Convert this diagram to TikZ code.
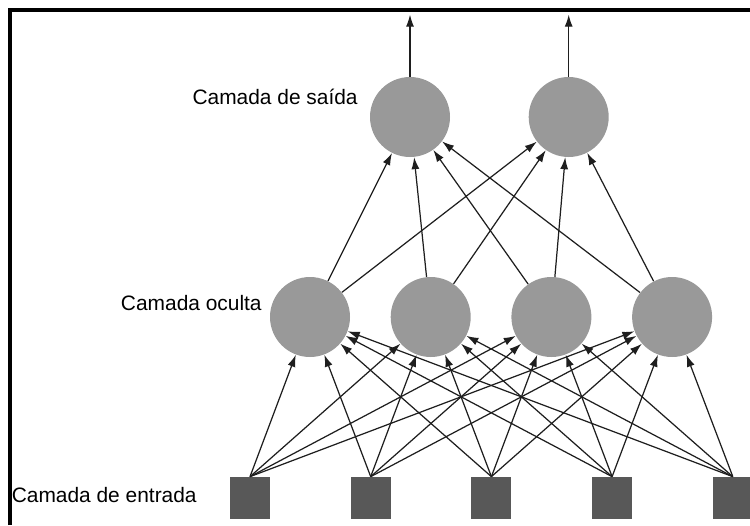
\documentclass[tikz,border=0pt]{standalone}
\usepackage{fontspec}
\setmainfont{Liberation Sans}
\usepackage{xcolor}
\usetikzlibrary{arrows.meta, positioning}

\definecolor{neurongray}{RGB}{153,153,153}
\definecolor{inputgray}{RGB}{88,88,88}
\definecolor{edgegray}{RGB}{30,30,30}

\begin{document}
\begin{tikzpicture}[
    neuron/.style={circle, fill=neurongray, minimum size=1.6cm, inner sep=0pt},
    inbox/.style={rectangle, fill=inputgray, minimum width=0.8cm, minimum height=0.84cm, inner sep=0pt},
    layer/.style={anchor=east, inner sep=0pt, font=\fontsize{11.9}{14}\selectfont},
    arrow/.style={-{Latex[length=2.4mm, width=1.6mm]}, line width=0.7pt, color=edgegray}
]
\useasboundingbox (0,0) rectangle (15,-10.5);

% Frame
\draw[line width=1.8pt] (0.2,-10.5) |- (15,-0.2);

% Input nodes
\node[inbox] (I1) at (5.0,-9.96) {};
\node[inbox, right=1.6cm of I1] (I2) {};
\node[inbox, right=1.6cm of I2] (I3) {};
\node[inbox, right=1.6cm of I3] (I4) {};
\node[inbox, right=1.6cm of I4] (I5) {};

% Hidden nodes
\node[neuron] (H1) at (6.2,-6.34) {};
\node[neuron, right=0.8cm of H1] (H2) {};
\node[neuron, right=0.8cm of H2] (H3) {};
\node[neuron, right=0.8cm of H3] (H4) {};

% Output nodes
\node[neuron] (O1) at (8.2,-2.34) {};
\node[neuron, right=1.56cm of O1] (O2) {};
\coordinate[above=1.24cm of O1] (T1);
\coordinate[above=1.24cm of O2] (T2);

% Layer labels
\node[layer] (LO) at (7.16,-1.94) {Camada de saída};
\node[layer] (LH) at (5.24,-6.06) {Camada oculta};
\node[layer] (LI) at (3.94,-9.9) {Camada de entrada};

% Input to hidden
\draw[arrow] (I1.north) -- (H1);
\draw[arrow] (I1.north) -- (H2);
\draw[arrow] (I1.north) -- (H3);
\draw[arrow] (I1.north) -- (H4);
\draw[arrow] (I2.north) -- (H1);
\draw[arrow] (I2.north) -- (H2);
\draw[arrow] (I2.north) -- (H3);
\draw[arrow] (I2.north) -- (H4);
\draw[arrow] (I3.north) -- (H1);
\draw[arrow] (I3.north) -- (H2);
\draw[arrow] (I3.north) -- (H3);
\draw[arrow] (I3.north) -- (H4);
\draw[arrow] (I4.north) -- (H1);
\draw[arrow] (I4.north) -- (H2);
\draw[arrow] (I4.north) -- (H3);
\draw[arrow] (I4.north) -- (H4);
\draw[arrow] (I5.north) -- (H1);
\draw[arrow] (I5.north) -- (H2);
\draw[arrow] (I5.north) -- (H3);
\draw[arrow] (I5.north) -- (H4);

% Hidden to output
\draw[arrow] (H1) -- (O1);
\draw[arrow] (H1) -- (O2);
\draw[arrow] (H2) -- (O1);
\draw[arrow] (H2) -- (O2);
\draw[arrow] (H3) -- (O1);
\draw[arrow] (H3) -- (O2);
\draw[arrow] (H4) -- (O1);
\draw[arrow] (H4) -- (O2);

% Outputs
\draw[arrow] (O1) -- (T1);
\draw[arrow] (O2) -- (T2);

\end{tikzpicture}
\end{document}
